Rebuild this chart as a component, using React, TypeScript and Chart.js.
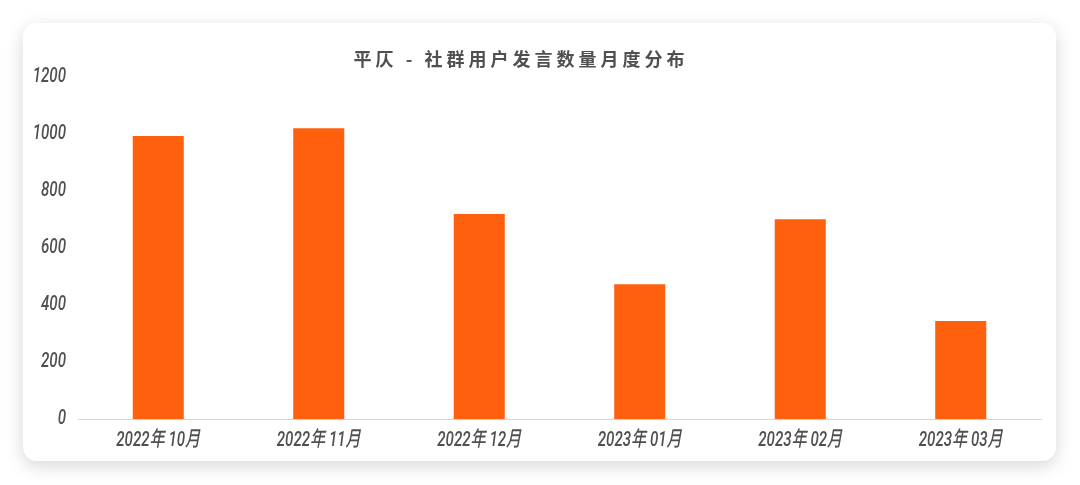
import { useEffect, useRef } from "react";
import { Chart, registerables } from "chart.js";

Chart.register(...registerables);

const months = ["2022年 10月", "2022年 11月", "2022年 12月", "2023年 01月", "2023年 02月", "2023年 03月"];
const messageCounts = [993, 1020, 719, 473, 701, 344];
const titleText = "平仄 - 社群用户发言数量月度分布";

const BAR_COLOR = "#FE600D";
const TEXT_COLOR = "#505050";
const LABEL_FONT = 'Roboto, "Noto Sans CJK SC", sans-serif';
const SQUEEZE = 0.72;

// the reference uses a condensed italic face; draw the tick labels squeezed
const condensedTicks = {
  id: "condensedTicks",
  afterDraw(chart: any) {
    const ctx = chart.ctx;
    const xScale = chart.scales.x;
    const yScale = chart.scales.y;
    ctx.save();
    ctx.fillStyle = TEXT_COLOR;
    ctx.font = `italic 500 21px ${LABEL_FONT}`;
    ctx.textBaseline = "middle";

    ctx.textAlign = "center";
    xScale.ticks.forEach((_t: any, i: number) => {
      ctx.save();
      ctx.translate(xScale.getPixelForTick(i), xScale.top + 22);
      ctx.scale(SQUEEZE, 1);
      ctx.fillText(chart.data.labels[i], 0, 0);
      ctx.restore();
    });

    ctx.textAlign = "right";
    yScale.ticks.forEach((t: any) => {
      ctx.save();
      ctx.translate(yScale.right - 12, yScale.getPixelForValue(t.value));
      ctx.scale(SQUEEZE, 1);
      ctx.fillText(String(t.value), 0, 0);
      ctx.restore();
    });
    ctx.restore();
  },
};

export default function App() {
  const chartRef = useRef<HTMLCanvasElement>(null);
  const chartInstanceRef = useRef<Chart | null>(null);

  useEffect(() => {
    if (!chartRef.current) return;
    if (chartInstanceRef.current) chartInstanceRef.current.destroy();

    const ctx = chartRef.current.getContext("2d");
    if (!ctx) return;

    chartInstanceRef.current = new Chart(ctx, {
      type: "bar",
      data: {
        labels: months,
        datasets: [
          {
            data: messageCounts,
            backgroundColor: BAR_COLOR,
            borderWidth: 0,
            categoryPercentage: 1,
            barPercentage: 0.318,
          },
        ],
      },
      options: {
        animation: false,
        responsive: true,
        maintainAspectRatio: false,
        layout: { padding: { left: 0, right: 15, top: 54, bottom: 0 } },
        plugins: {
          legend: { display: false },
          tooltip: { enabled: false },
          title: { display: false },
        },
        scales: {
          x: {
            grid: { display: false, drawTicks: false },
            border: { display: true, color: "#d4d4d4", width: 1 },
            ticks: { display: false },
            afterFit: (scale: any) => {
              scale.height = 42;
            },
          },
          y: {
            min: 0,
            max: 1200,
            grid: { display: false, drawTicks: false },
            border: { display: false },
            ticks: { display: false, stepSize: 200 },
            afterFit: (scale: any) => {
              scale.width = 55;
            },
          },
        },
      },
      plugins: [condensedTicks],
    });

    return () => {
      if (chartInstanceRef.current) {
        chartInstanceRef.current.destroy();
        chartInstanceRef.current = null;
      }
    };
  }, []);

  return (
    <div style={{ position: "absolute", left: 0, top: 0, width: 1080, height: 485, background: "#ffffff", overflow: "hidden" }}>
      <div
        style={{
          position: "absolute",
          left: 23,
          top: 23,
          width: 1033,
          height: 438,
          background: "#ffffff",
          borderRadius: 14,
          boxShadow: "0 5px 18px rgba(0,0,0,0.16)",
        }}
      >
        <div style={{ position: "absolute", inset: 0 }}>
          <canvas ref={chartRef} />
        </div>
      </div>
      <div
        style={{
          position: "absolute",
          left: 521,
          top: 49,
          fontFamily: '"Noto Sans CJK SC", sans-serif',
          fontSize: 18,
          fontWeight: 700,
          lineHeight: 1,
          letterSpacing: 4,
          color: TEXT_COLOR,
          whiteSpace: "nowrap",
          transform: "translateX(-50%)",
        }}
      >
        {titleText}
      </div>
    </div>
  );
}
